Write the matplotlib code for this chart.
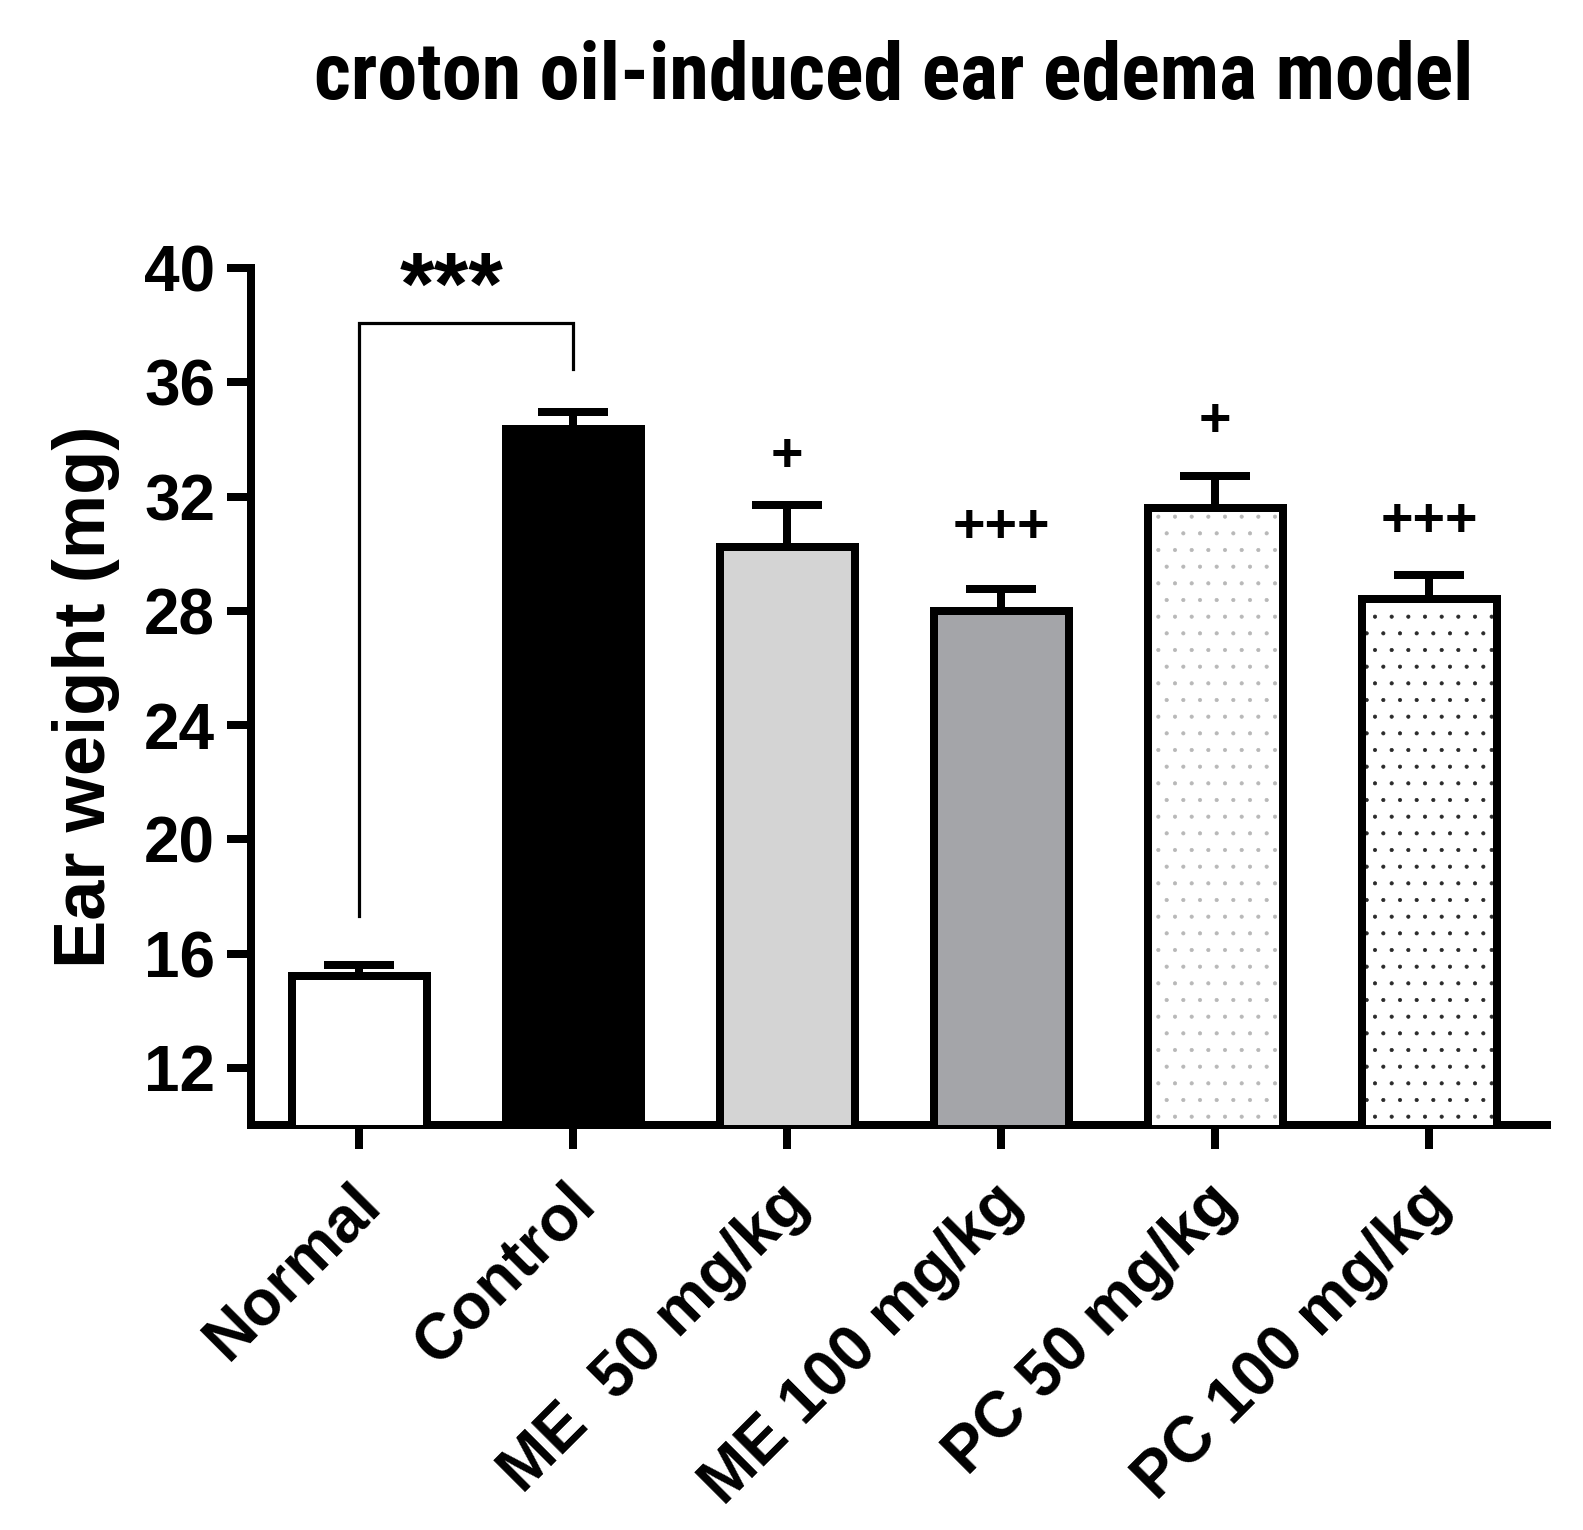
import matplotlib
matplotlib.use('Agg')
import matplotlib.pyplot as plt
from matplotlib import font_manager
from matplotlib.font_manager import FontProperties
from matplotlib.transforms import ScaledTranslation
import numpy as np

# ---------------- data ----------------
categories = ['Normal', 'Control', 'ME  50 mg/kg', 'ME 100 mg/kg', 'PC 50 mg/kg', 'PC 100 mg/kg']
means = [15.2, 34.35, 30.25, 28.0, 31.6, 28.4]
sems = [0.4, 0.6, 1.45, 0.75, 1.12, 0.87]
plus_labels = ['', '', '+', '+++', '+', '+++']
plus_y = [0, 0, 33.4, 30.9, 34.6, 31.1]
yticks = [12, 16, 20, 24, 28, 32, 36, 40]
fill_colors = ['white', 'black', '#d4d4d4', '#a4a5a9', 'white', 'white']
dot_colors = [None, None, None, None, '#b8b8b8', '#2a2a2a']
sig_pair = (0, 1)
sig_text = '***'
bracket_top = 38.07
bracket_left_bottom = 17.3
bracket_right_bottom = 36.45
sig_text_y = 38.4
title = 'croton oil-induced ear edema model'
ylabel = 'Ear weight (mg)'

# ---------------- fonts ----------------
names = {f.name for f in font_manager.fontManager.ttflist}
base_font = 'Liberation Sans' if 'Liberation Sans' in names else 'DejaVu Sans'
plt.rcParams['font.family'] = [base_font, 'DejaVu Sans']
plt.rcParams['font.weight'] = 'bold'
plt.rcParams['hatch.linewidth'] = 0.5


def find_condensed_bold():
    best = None
    for f in font_manager.fontManager.ttflist:
        nm = f.name.lower()
        fn = f.fname.lower()
        cond = ('narrow' in nm or 'condensed' in nm or 'narrow' in fn or 'condensed' in fn
                or f.stretch in ('condensed', 'semi-condensed'))
        if not cond:
            continue
        w = f.weight if isinstance(f.weight, int) else {'bold': 700}.get(f.weight, 400)
        if w < 600 or f.style != 'normal':
            continue
        score = 0
        if 'liberation' in fn or 'arial' in fn:
            score = 3
        elif 'roboto' in fn:
            score = 2
        elif 'dejavu' in fn:
            score = 1
        if best is None or score > best[0]:
            best = (score, f.fname)
    return best[1] if best else None


cond_path = find_condensed_bold()
if cond_path:
    title_fp = FontProperties(fname=cond_path)
    title_width = 1160
else:
    title_fp = FontProperties(family=[base_font, 'DejaVu Sans'], weight='bold')
    title_width = 1198

LW = 5.76  # 8 px at 100 dpi

fig = plt.figure(figsize=(15.83, 15.30), dpi=100)
ax = fig.add_axes([251 / 1583, 1 - 1125 / 1530, (1547 - 251) / 1583, (1125 - 268) / 1530])

x = np.arange(len(categories))
width = 0.63

# error bars (upper only), under the bars
ax.errorbar(x, means, yerr=[np.zeros(len(means)), sems], fmt='none', ecolor='black',
            elinewidth=LW, capsize=25, capthick=LW, zorder=2)

# dotted fills
for i in range(len(categories)):
    if dot_colors[i] is not None:
        ax.bar(x[i], means[i], width, color=fill_colors[i], edgecolor=dot_colors[i],
               hatch='.', linewidth=0, zorder=3)

# bars with outlines
ax.bar(x, means, width, color=[c if d is None else 'none' for c, d in zip(fill_colors, dot_colors)],
       edgecolor='black', linewidth=LW, zorder=4)

# significance bracket
i0, i1 = sig_pair
ax.plot([x[i0], x[i0], x[i1], x[i1]],
        [bracket_left_bottom, bracket_top, bracket_top, bracket_right_bottom],
        color='black', lw=2.3, solid_joinstyle='miter', zorder=5, clip_on=False)
ax.text((x[i0] + x[i1]) / 2 - 0.07, sig_text_y, sig_text, ha='center', va='baseline',
        fontsize=64, fontweight='bold')

# plus annotations
for i, (lab, yy) in enumerate(zip(plus_labels, plus_y)):
    if lab:
        ax.text(x[i], yy, lab, ha='center', va='center', fontsize=40, fontweight='bold')

# axes styling
ax.set_xlim(-0.505, 5.55)
ax.set_ylim(10, 40)
ax.set_yticks(yticks)
ax.set_yticklabels([str(t) for t in yticks], fontsize=46, fontweight='bold')
ax.set_xticks(x)
ax.set_xticklabels(categories, fontsize=46, fontweight='bold', rotation=45,
                   ha='right', va='center', rotation_mode='anchor')
ax.tick_params(axis='both', length=17.3, width=LW, direction='out', color='black')
ax.tick_params(axis='y', pad=8.6)
ax.tick_params(axis='x', pad=32.4)
shift = ScaledTranslation(12 / 100, 0, fig.dpi_scale_trans)
for lbl in ax.get_xticklabels():
    lbl.set_transform(lbl.get_transform() + shift)
for s in ['top', 'right']:
    ax.spines[s].set_visible(False)
for s in ['left', 'bottom']:
    ax.spines[s].set_linewidth(LW)
    ax.spines[s].set_capstyle('projecting')

ax.set_ylabel(ylabel, fontsize=52, fontweight='bold')
ax.yaxis.set_label_coords(-0.101, 0.5)

# title: fitted to the reference width, baseline at y=99 px
t = fig.text(894 / 1583, 1 - 99 / 1530, title, ha='center', va='baseline',
             fontproperties=title_fp)
t.set_fontsize(50)
fig.canvas.draw()
w = t.get_window_extent().width
t.set_fontsize(50 * title_width / w)

fig.savefig('out.png', dpi=100, facecolor='white')
